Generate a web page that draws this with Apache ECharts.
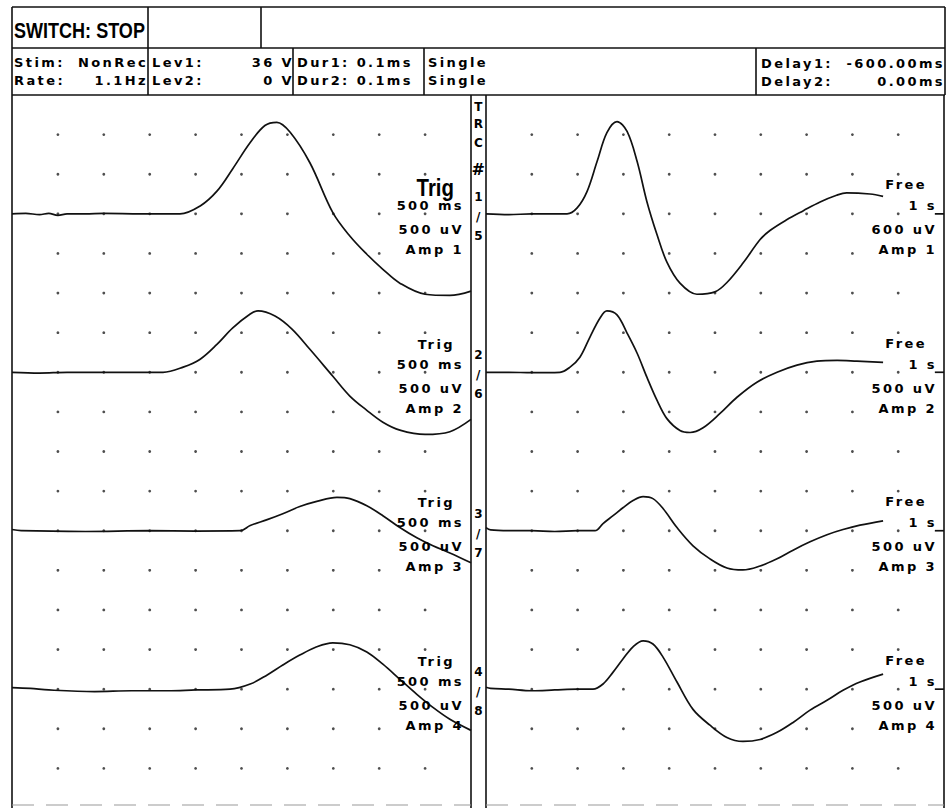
<!DOCTYPE html>
<html><head><meta charset="utf-8">
<script src="https://cdn.jsdelivr.net/npm/echarts@6/dist/echarts.min.js"></script>
<style>
html,body{margin:0;padding:0;background:#fff;}
#c{width:949px;height:808px;}
#c text{letter-spacing:2.4px;}
#c text[style*="Liberation"]{letter-spacing:0;}
</style></head><body><div id="c"></div>
<script>
// ---- data: time (ms) , amplitude (uV) relative to each channel baseline ----
const leftCh1 = [[0,0],[150,5],[300,-10],[400,5],[500,-20],[600,0],[800,0],[1000,5],[1400,0],[1830,0],[2050,100],[2235,290],[2405,570],[2595,900],[2755,1115],[2885,1155],[3030,1030],[3245,645],[3495,15],[3680,-280],[3865,-510],[4040,-700],[4225,-875],[4500,-1015],[4770,-1030],[5000,-975]];
const leftCh2 = [[0,0],[300,-10],[600,0],[1000,0],[1645,0],[1865,65],[2050,165],[2235,355],[2405,560],[2595,735],[2680,775],[2865,710],[3050,545],[3245,290],[3495,-50],[3680,-300],[3865,-480],[4040,-630],[4225,-730],[4500,-785],[4770,-750],[5000,-595]];
const leftCh3 = [[0,15],[100,0],[800,-10],[1500,0],[2000,-5],[2485,0],[2595,65],[2780,140],[2950,215],[3135,305],[3320,370],[3540,420],[3680,405],[3865,315],[4040,190],[4225,40],[4410,-90],[4585,-190],[4770,-280],[5000,-405]];
const leftCh4 = [[0,20],[200,10],[400,-10],[900,-30],[1300,-20],[1700,-20],[2000,-10],[2375,0],[2595,65],[2780,180],[2950,305],[3135,430],[3320,535],[3495,585],[3680,560],[3865,470],[4040,315],[4225,125],[4410,-65],[4585,-230],[4770,-380],[5000,-520]];
const rightCh1 = [[0,0],[500,-10],[1000,0],[1770,0],[1990,75],[2205,280],[2425,660],[2640,1025],[2860,1165],[3080,1040],[3300,660],[3515,150],[3735,-265],[3950,-610],[4235,-875],[4605,-1015],[5000,-985],[5255,-870],[5620,-615],[5985,-325],[6200,-210],[6565,-75],[6930,40],[7295,150],[7655,235],[7875,265],[8385,250],[8670,220]];
const rightCh2 = [[0,0],[500,0],[1000,-5],[1615,0],[1835,65],[2050,190],[2270,445],[2490,685],[2640,775],[2860,725],[3080,495],[3300,240],[3515,-65],[3735,-355],[3950,-585],[4235,-735],[4455,-760],[4740,-700],[5110,-520],[5480,-315],[5915,-125],[6355,0],[6790,90],[7225,140],[7665,150],[8100,140],[8670,125]];
const rightCh3 = [[0,40],[100,10],[500,0],[1000,0],[1500,-10],[2000,0],[2380,0],[2555,90],[2775,190],[2990,290],[3210,380],[3430,430],[3645,405],[3865,280],[4170,40],[4520,-190],[4890,-355],[5260,-470],[5610,-495],[5985,-445],[6355,-355],[6705,-245],[7075,-140],[7445,-50],[7795,15],[8165,70],[8670,125]];
const rightCh4 = [[0,25],[100,10],[500,0],[1000,-20],[1500,-10],[2000,0],[2335,0],[2555,65],[2775,215],[2990,380],[3210,535],[3430,610],[3645,570],[3865,405],[4170,90],[4520,-255],[4890,-455],[5260,-610],[5610,-660],[5985,-635],[6355,-545],[6705,-420],[7075,-265],[7445,-140],[7795,-15],[8165,90],[8670,190]];
const rightMarker = [[9800,0],[10000,0]];

const channelBaselines = [-1500,-3500,-5500,-7500]; // uV position of each channel baseline on the 18-div screen
const leftTitles = ['Trig','Trig','Trig','Trig'];
const leftSweep = ['500 ms','500 ms','500 ms','500 ms'];
const leftGain = ['500 uV','500 uV','500 uV','500 uV'];
const rightTitles = ['Free','Free','Free','Free'];
const rightSweep = ['1 s','1 s','1 s','1 s'];
const rightGain = ['600 uV','500 uV','500 uV','500 uV'];
const ampNames = ['Amp 1','Amp 2','Amp 3','Amp 4'];
const trcHead = ['T','R','C','#'];
const trcNums = [['1','/','5'],['2','/','6'],['3','/','7'],['4','/','8']];

const leftTraces = [leftCh1,leftCh2,leftCh3,leftCh4];
const rightTraces = [rightCh1,rightCh2,rightCh3,rightCh4];

const chart = echarts.init(document.getElementById('c'), null, {renderer:'svg', width:949, height:808});
const INK = '#111';
const series = [];
const dotsL = [], dotsR = [];
for (let i = 1; i <= 9; i++) for (let j = 1; j <= 17; j++) { dotsL.push([i*500, -j*500]); dotsR.push([i*1000, -j*500]); }
series.push({type:'scatter', xAxisIndex:0, yAxisIndex:0, data:dotsL, symbolSize:2.8, itemStyle:{color:'#222'}, silent:true, z:1});
series.push({type:'scatter', xAxisIndex:1, yAxisIndex:1, data:dotsR, symbolSize:2.8, itemStyle:{color:'#222'}, silent:true, z:1});
const lineStyle = {color:INK, width:1.7};
leftTraces.forEach((tr,k) => series.push({type:'line', xAxisIndex:0, yAxisIndex:0, data:tr.map(p=>[p[0], p[1]+channelBaselines[k]]), showSymbol:false, smooth:0.35, lineStyle, silent:true, z:3}));
rightTraces.forEach((tr,k) => {
  series.push({type:'line', xAxisIndex:1, yAxisIndex:1, data:tr.map(p=>[p[0], p[1]+channelBaselines[k]]), showSymbol:false, smooth:0.35, lineStyle, silent:true, z:3});
  series.push({type:'line', xAxisIndex:1, yAxisIndex:1, data:rightMarker.map(p=>[p[0], p[1]+channelBaselines[k]]), showSymbol:false, lineStyle, silent:true, z:3});
});

chart.setOption({
  animation:false,
  backgroundColor:'#fff',
  grid:[{left:12, top:95, width:459, height:713, show:false},{left:486, top:95, width:458, height:713, show:false}],
  xAxis:[{gridIndex:0, type:'value', min:0, max:5000, show:false},{gridIndex:1, type:'value', min:0, max:10000, show:false}],
  yAxis:[{gridIndex:0, type:'value', min:-9000, max:0, show:false},{gridIndex:1, type:'value', min:-9000, max:0, show:false}],
  series
});

const SMALL = 'bold 13px "DejaVu Sans"';
const g = [];
function line(x1,y1,x2,y2,extra){ g.push({type:'line', silent:true, z:10, shape:{x1,y1,x2,y2}, style:Object.assign({stroke:INK, lineWidth:1.6}, extra||{})}); }
function txt(s,x,y,align,font,sx){ g.push({type:'text', silent:true, z:11, x:x, y:y, scaleX:sx||1, style:{text:s, font:font||SMALL, fill:'#000', textAlign:align||'left', align:align||'left', textVerticalAlign:'middle', verticalAlign:'middle'}}); }

// header frame
line(12,7,945,7); line(12,48,945,48); line(12,95,945,95);
[12,148,261,945].forEach(x=>line(x,7,x,48));
[12,148,293,424,756,945].forEach(x=>line(x,48,x,95));
// panel frames
[12,471,486,944].forEach(x=>line(x,95,x,808));
line(12,805,471,805,{stroke:'#999', lineWidth:1.2, lineDash:[22,12]});
line(486,805,944,805,{stroke:'#999', lineWidth:1.2, lineDash:[22,12]});

// header text
txt('SWITCH: STOP',14,30,'left','bold 22px "Liberation Sans"',0.82);
txt('Stim:',14,62); txt('NonRec',148,62,'right');
txt('Rate:',14,80); txt('1.1Hz',148,80,'right');
txt('Lev1:',152,62); txt('36 V',294,62,'right');
txt('Lev2:',152,80); txt('0 V',294,80,'right');
txt('Dur1: 0.1ms',297,62); txt('Dur2: 0.1ms',297,80);
txt('Single',428,62); txt('Single',428,80);
txt('Delay1:',761,63); txt('-600.00ms',945,63,'right');
txt('Delay2:',761,81); txt('0.00ms',945,81,'right');

// channel labels
for (let k = 0; k < 4; k++) {
  const [xl, yb] = chart.convertToPixel({gridIndex:0}, [5000, channelBaselines[k]]);
  const [xr] = chart.convertToPixel({gridIndex:1}, [10000, channelBaselines[k]]);
  if (k === 0) txt(leftTitles[k], xl-17, yb-26, 'right', 'bold 24px "Liberation Sans"', 0.85);
  else txt(leftTitles[k], xl-16, yb-28, 'right');
  txt(leftSweep[k], xl-7, yb-8, 'right');
  txt(leftGain[k], xl-7, yb+16, 'right');
  txt(ampNames[k], xl-7, yb+36, 'right');
  txt(rightTitles[k], xr-17, yb-29, 'right');
  txt(rightSweep[k], xr-7, yb-8, 'right');
  txt(rightGain[k], xr-7, yb+16, 'right');
  txt(ampNames[k], xr-7, yb+36, 'right');
  const mid = (xl + (chart.convertToPixel({gridIndex:1}, [0, 0])[0])) / 2 + 1;
  if (k === 0) {
    [-107,-90,-71,-44].forEach((dy,i)=>txt(trcHead[i], mid, yb+dy, 'center', i===3 ? 'bold 16px "DejaVu Sans"' : 'bold 12px "DejaVu Sans"'));
  }
  [-17,3,22].forEach((dy,i)=>txt(trcNums[k][i], mid, yb+dy, 'center', 'bold 12px "DejaVu Sans"'));
}
chart.setOption({graphic: g});
</script></body></html>
